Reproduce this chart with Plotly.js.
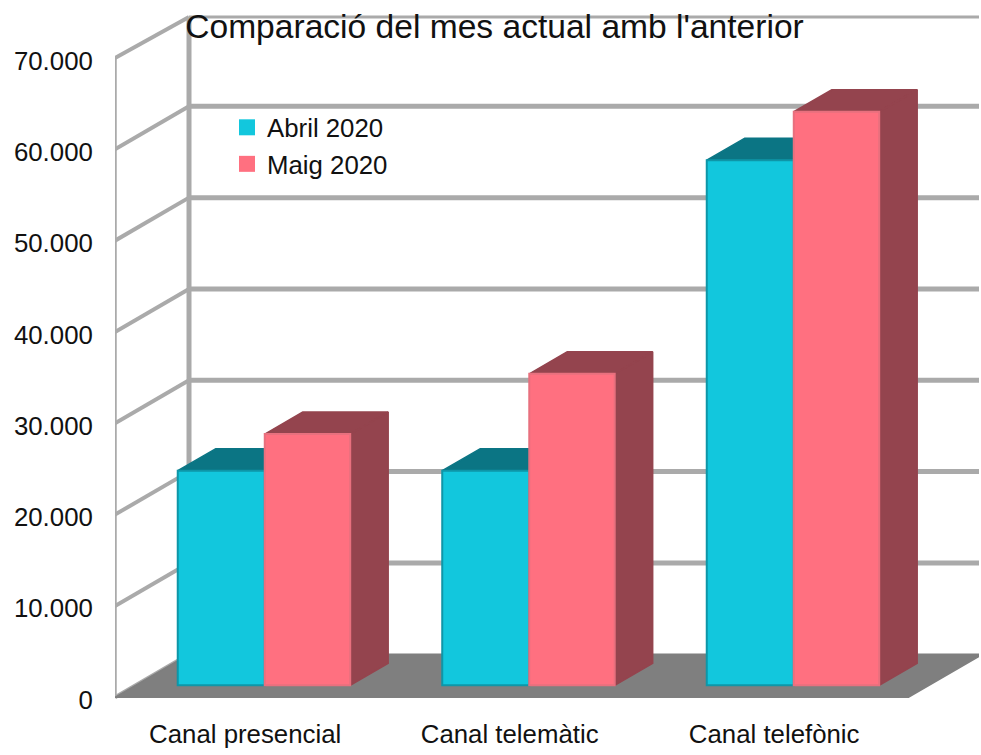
<!DOCTYPE html>
<html>
<head>
<meta charset="utf-8">
<script src="https://cdn.plot.ly/plotly-3.0.1.min.js"></script>
<style>html,body{margin:0;padding:0;background:#fff}</style>
</head>
<body>
<div id="chart" style="width:981px;height:755px"></div>
<script>
const categories = ["Canal presencial", "Canal telemàtic", "Canal telefònic"];
const abril = [23500, 23500, 57500];
const maig = [27500, 34100, 62800];
const seriesNames = ["Abril 2020", "Maig 2020"];
const yTicks = [0, 10000, 20000, 30000, 40000, 50000, 60000, 70000];
const yTickText = ["0", "10.000", "20.000", "30.000", "40.000", "50.000", "60.000", "70.000"];
const titleText = "Comparació del mes actual amb l'anterior";

// pseudo-3D projection expressed in axis units
const xMax = 3.2665, yMin = -300, yMax = 74710;
const wallDx = 0.2798, wallDy = 4710;     // depth of the chart box
const topInset = 220;                     // top rail of the back wall sits slightly lower
const barOffX = 0.0662, barOffY = 1315;   // front face of the bars inside the box
const barW = 0.323, barWA = 0.329, barDx = 0.1436, barDy = 2410; // bar widths, bar depth
const labelDropY = 275, labelShiftX = 0.008; // tick labels sit slightly off their ticks

const grey = "#aaaaaa";
const font = "'Liberation Sans', Arial, sans-serif";
const fs = 25.8;

function seg(list) {
  const x = [], y = [];
  list.forEach(p => { p.forEach(q => { x.push(q[0]); y.push(q[1]); }); x.push(null); y.push(null); });
  return {x, y};
}
function lineTrace(list, width) {
  const s = seg(list);
  return {type: "scatter", mode: "lines", x: s.x, y: s.y, line: {color: grey, width}, cliponaxis: false, hoverinfo: "skip", showlegend: false};
}
function polyTrace(list, color) {
  const s = seg(list.map(p => p.concat([p[0]])));
  return {type: "scatter", mode: "lines", x: s.x, y: s.y, fill: "toself", fillcolor: color, line: {color, width: 1.5}, cliponaxis: false, hoverinfo: "skip", showlegend: false};
}
function faces(values, left) {
  const out = [];
  values.forEach((v, i) => {
    const a = left(i), b = a + barW, base = barOffY, top = barOffY + v;
    out.push([[a, top], [a + barDx, top + barDy], [b + barDx, top + barDy], [b, top]]);
    out.push([[b, top], [b + barDx, top + barDy], [b + barDx, base + barDy], [b, base]]);
  });
  return out;
}
const leftA = i => i + 0.5 + barOffX - barWA;
const leftM = i => i + 0.5 + barOffX;
const frontW = 3;
const topY = yTicks[7] + wallDy - topInset;

const traces = [
  lineTrace([[[0, 0], [0, yTicks[7]]]], 3.5),
  lineTrace(yTicks.map(t => [[0, t], [wallDx, t + wallDy - (t === yTicks[7] ? topInset : 0)]]), 4),
  lineTrace(yTicks.slice(1, 7).map(t => [[wallDx, t + wallDy], [frontW + wallDx, t + wallDy]]), 5),
  lineTrace([[[wallDx, topY], [frontW + wallDx, topY]]], 3),
  lineTrace([[[wallDx, wallDy], [wallDx, topY]]], 5),
  lineTrace([[[frontW + wallDx, wallDy], [frontW + wallDx, topY]]], 3),
  polyTrace([[[0, 0], [wallDx, wallDy], [frontW + wallDx, wallDy], [frontW, 0]]], "#7f7f7f"),
  polyTrace(faces(abril, leftA), "#0b7584"),
  polyTrace(faces(maig, leftM), "#94444e"),
  {type: "bar", x: abril.map((v, i) => leftA(i) + barWA / 2), y: abril, base: barOffY, width: barWA,
   marker: {color: "#12c7dd", line: {color: "#0e96a8", width: 2}}, xaxis: "x2", yaxis: "y2", showlegend: false, hoverinfo: "skip"},
  {type: "bar", x: maig.map((v, i) => leftM(i) + barW / 2), y: maig, base: barOffY, width: barW,
   marker: {color: "#ff7080", line: {color: "#e8707e", width: 2}}, xaxis: "x2", yaxis: "y2", showlegend: false, hoverinfo: "skip"},
  {type: "scatter", mode: "markers", x: [null], y: [null], name: seriesNames[0], legendgroup: "a",
   marker: {symbol: "square", size: 16, color: "#12c7dd"}},
  {type: "scatter", mode: "markers", x: [null], y: [null], name: seriesNames[1], legendgroup: "m",
   marker: {symbol: "square", size: 16, color: "#ff7080"}}
];

const layout = {
  width: 981, height: 755,
  margin: {l: 115, r: 2, t: 15, b: 55.26, pad: 0},
  paper_bgcolor: "#fff", plot_bgcolor: "rgba(0,0,0,0)",
  font: {family: font, size: fs, color: "#111"},
  title: {text: titleText, x: (494.5 - 115) / 864, xanchor: "center", xref: "paper", yref: "container", y: 1 - 26 / 755, yanchor: "middle",
          font: {family: font, size: 33.6, color: "#111"}},
  barmode: "overlay",
  showlegend: true,
  legend: {x: (227 - 115) / 864, xanchor: "left", y: 1 - (104 - 15) / 684.74, yanchor: "top", bgcolor: "rgba(0,0,0,0)",
           tracegroupgap: 7, font: {family: font, size: fs, color: "#111"}, traceorder: "normal"},
  xaxis: {range: [0, xMax], tickmode: "array", tickvals: categories.map((c, i) => i + 0.5 - labelShiftX), ticktext: categories,
          showgrid: false, zeroline: false, showline: false, ticks: "outside", ticklen: 11, tickcolor: "rgba(0,0,0,0)", tickfont: {size: fs}},
  yaxis: {range: [yMin, yMax], tickmode: "array", tickvals: yTicks.map(t => t - labelDropY), ticktext: yTickText,
          showgrid: false, zeroline: false, showline: false, ticks: "outside", ticklen: 16, tickcolor: "rgba(0,0,0,0)", tickfont: {size: fs}},
  xaxis2: {range: [0, xMax], overlaying: "x", visible: false, anchor: "y2"},
  yaxis2: {range: [yMin, yMax], overlaying: "y", visible: false, anchor: "x2"}
};
Plotly.newPlot("chart", traces, layout, {displayModeBar: false, responsive: false});
</script>
</body>
</html>
